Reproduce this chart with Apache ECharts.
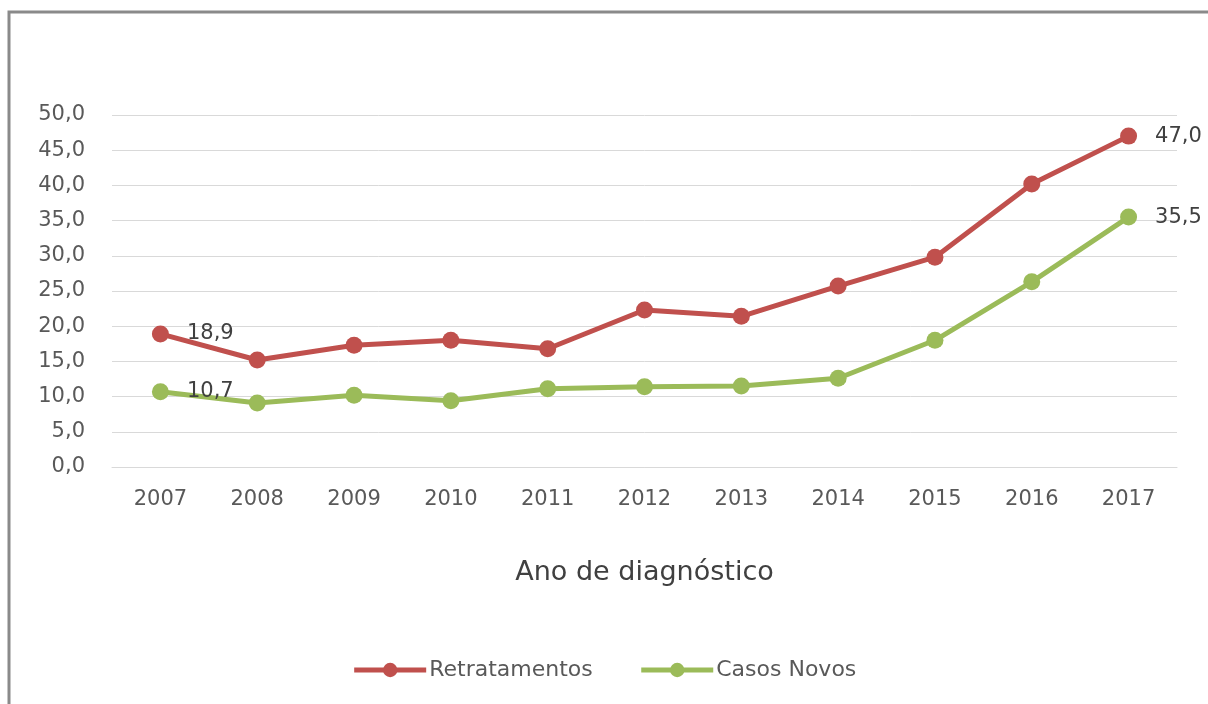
<!DOCTYPE html>
<html>
<head>
<meta charset="utf-8">
<script src="https://cdn.jsdelivr.net/npm/echarts@6/dist/echarts.min.js"></script>
<style>
  html, body { margin: 0; padding: 0; background: #fff; }
  #chart { width: 1208px; height: 704px; }
</style>
</head>
<body>
<div id="chart"></div>
<script>
// dados
var anos = ['2007', '2008', '2009', '2010', '2011', '2012', '2013', '2014', '2015', '2016', '2017'];
var retratamentos = [18.9, 15.2, 17.3, 18.0, 16.8, 22.3, 21.4, 25.7, 29.8, 40.2, 47.0];
var casosNovos = [10.7, 9.1, 10.2, 9.4, 11.1, 11.4, 11.5, 12.6, 18.0, 26.3, 35.5];

var fonte = '"DejaVu Sans", sans-serif';

function virgula(v) {
  return v.toFixed(1).replace('.', ',');
}

// só mostra rótulo no primeiro e no último ponto
var rotulo = {
  show: true,
  position: 'right',
  distance: 18,
  color: '#404040',
  fontSize: 21,
  fontFamily: fonte,
  formatter: function (p) {
    if (p.dataIndex === 0 || p.dataIndex === anos.length - 1) return virgula(p.value);
    return '';
  }
};

var myChart = echarts.init(document.getElementById('chart'));
var option = {
  backgroundColor: '#fff',
  animation: false,
  textStyle: { fontFamily: fonte },
  graphic: [{
    type: 'rect',
    shape: { x: 9, y: 12, width: 1400, height: 900 },
    style: { fill: 'none', stroke: '#8a8a8a', lineWidth: 3 },
    silent: true
  }],
  grid: { left: 112, right: 31, top: 115, bottom: 237 },
  legend: {
    bottom: 18,
    left: 'center',
    itemWidth: 72,
    itemHeight: 18,
    itemGap: 46,
    lineStyle: { width: 5 },
    textStyle: { color: '#595959', fontSize: 22, fontFamily: fonte, padding: [0, 0, 0, -2] },
    data: ['Retratamentos', 'Casos Novos']
  },
  xAxis: {
    type: 'category',
    data: anos,
    boundaryGap: true,
    name: 'Ano de diagnóstico',
    nameLocation: 'middle',
    nameGap: 92,
    nameTextStyle: { color: '#404040', fontSize: 27, fontFamily: fonte },
    axisLine: { show: true, lineStyle: { color: '#d9d9d9', width: 1 } },
    axisTick: { show: false },
    axisLabel: { color: '#595959', fontSize: 21, margin: 22, fontFamily: fonte }
  },
  yAxis: {
    type: 'value',
    min: 0,
    max: 50,
    interval: 5,
    axisLine: { show: false },
    axisTick: { show: false },
    splitLine: { lineStyle: { color: '#d9d9d9', width: 1 } },
    axisLabel: {
      color: '#595959', fontSize: 21, margin: 27, fontFamily: fonte,
      formatter: function (v) { return virgula(v); }
    }
  },
  series: [
    {
      name: 'Retratamentos',
      type: 'line',
      data: retratamentos,
      symbol: 'circle',
      symbolSize: 17,
      color: '#c0504d',
      lineStyle: { width: 5, color: '#c0504d' },
      itemStyle: { color: '#c0504d' },
      label: rotulo
    },
    {
      name: 'Casos Novos',
      type: 'line',
      data: casosNovos,
      symbol: 'circle',
      symbolSize: 17,
      color: '#9bbb59',
      lineStyle: { width: 5, color: '#9bbb59' },
      itemStyle: { color: '#9bbb59' },
      label: rotulo
    }
  ]
};
myChart.setOption(option);
</script>
</body>
</html>
